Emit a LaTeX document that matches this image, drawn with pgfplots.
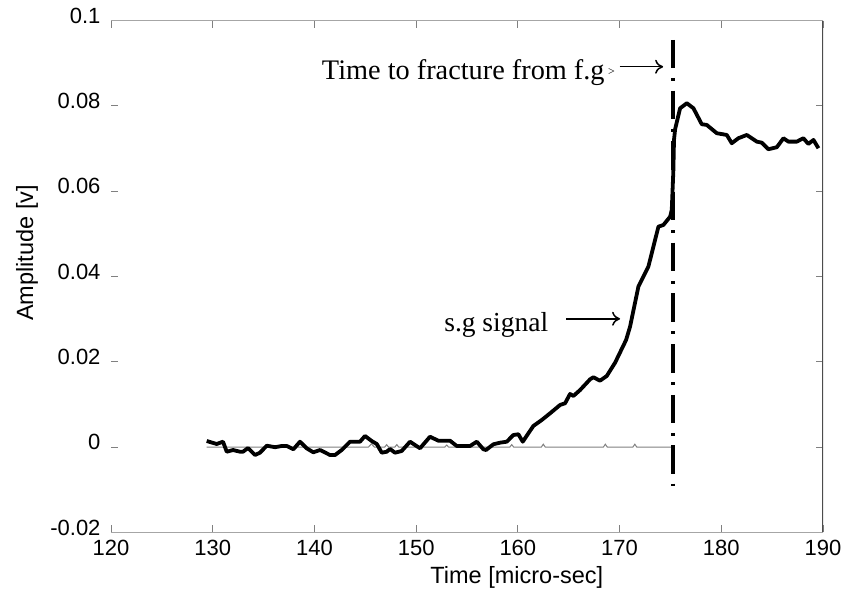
\documentclass[border=0pt]{standalone}
\usepackage{pgfplots}
\pgfplotsset{compat=1.18}
\usepackage{fontspec}
\setmainfont{Liberation Serif}
\newfontfamily\helv{Liberation Sans}
\usetikzlibrary{arrows.meta}

\begin{document}
\begin{tikzpicture}[x=1bp,y=1bp]
\path[use as bounding box] (0,0) rectangle (846,593);
\begin{axis}[
  at={(111bp,60.5bp)}, anchor=south west,
  scale only axis, width=712bp, height=511.8bp,
  xmin=120, xmax=190, ymin=-0.02, ymax=0.1,
  xtick={120,130,140,150,160,170,180,190},
  xticklabels={120,130,140,150,160,170,180,190},
  ytick={-0.02,0,0.02,0.04,0.06,0.08,0.1},
  yticklabels={-0.02,0,0.02,0.04,0.06,0.08,0.1},
  ticklabel style={font=\helv\fontsize{22bp}{26bp}\selectfont},
  xticklabel style={yshift=-4bp},
  yticklabel style={xshift=-7bp, yshift=5bp},
  tick align=inside,
  major tick length=7bp,
  tick style={gray, line width=1bp},
  axis line style={draw=none},
  xlabel={Time [micro-sec]},
  ylabel={Amplitude [v]},
  xlabel style={font=\helv\fontsize{23.5bp}{27bp}\selectfont, at={(axis description cs:0.570,-0.087)}, anchor=center},
  ylabel style={font=\helv\fontsize{23.5bp}{27bp}\selectfont, at={(axis description cs:-0.118,0.546)}, anchor=center},
]
\draw[gray!70, line width=1.5bp] (rel axis cs:0,1) -- (rel axis cs:1,1);
\draw[gray!70, line width=1.5bp] (rel axis cs:0,0) -- (rel axis cs:1,0);
\draw[black!70, line width=1.5bp] (rel axis cs:1,0) -- (rel axis cs:1,1);

% thin baseline
\addplot[gray, line width=1bp] coordinates {
(129.41,0) (145.3,0) (145.6,0.0008) (145.9,0) (146.9,0) (147.1,0.0006) (147.3,0)
(147.9,0) (148.1,0.0006) (148.3,0) (152.8,0) (153,0.0005) (153.2,0)
(159.2,0) (159.4,0.0006) (159.6,0) (162.3,0) (162.5,0.0007) (162.7,0)
(168.4,0) (168.6,0.0007) (168.8,0) (171.3,0) (171.5,0.0007) (171.7,0) (175.26,0)
};

% s.g signal
\addplot[black, line width=3.8bp, line join=round] coordinates {
(129.41,0.00145) (130.39,0.00075) (131.01,0.00129) (131.38,-0.00106) (132.00,-0.00066)
(132.68,-0.00106) (132.98,-0.00106) (133.47,-0.00019) (134.16,-0.00183) (134.65,-0.00129)
(135.31,0.00035) (136.13,0.0) (136.78,0.00028) (137.28,0.00028) (137.93,-0.00049)
(138.58,0.00129) (139.24,-0.00026) (139.89,-0.0012) (140.55,-0.00066) (141.53,-0.00183)
(142.03,-0.00183) (142.68,-0.00066) (143.50,0.00129) (144.48,0.00129) (144.97,0.00263)
(145.63,0.00145) (146.13,0.00075) (146.62,-0.00129) (147.11,-0.00106) (147.43,-0.00042)
(147.92,-0.00129) (148.58,-0.00089) (149.40,0.00129) (150.38,-0.00026) (151.36,0.00246)
(152.18,0.00152) (153.33,0.00152) (153.99,0.00028) (155.30,0.00028) (155.96,0.00129)
(156.61,-0.00049) (156.87,-0.00066) (157.59,0.00068) (158.25,0.00106) (158.91,0.00129)
(159.56,0.00286) (160.05,0.00303) (160.48,0.00129) (161.52,0.00497) (162.35,0.00638)
(163.17,0.00795) (164.15,0.0099) (164.64,0.01029) (165.13,0.01248) (165.46,0.01201)
(166.12,0.01341) (167.10,0.01592) (167.42,0.01639) (168.08,0.0156) (168.74,0.0167)
(169.56,0.01982) (170.64,0.02514) (171.03,0.02826) (171.85,0.03764) (172.34,0.03998)
(172.83,0.04233) (173.82,0.05171) (174.31,0.05211) (174.97,0.05405) (175.13,0.05562)
(175.29,0.065) (175.35,0.07204) (175.46,0.07455) (175.95,0.07947) (176.61,0.08065)
(177.26,0.07947) (178.08,0.07572) (178.57,0.07556) (179.56,0.07361) (180.54,0.07321)
(181.03,0.07127) (181.68,0.07244) (182.51,0.07321) (183.49,0.07164) (183.98,0.0714)
(184.63,0.06986) (185.46,0.07033) (186.11,0.07244) (186.60,0.07164) (187.42,0.07164)
(188.07,0.07244) (188.56,0.0711) (189.06,0.07204) (189.55,0.07009)
};

% fracture time line
\addplot[black, line width=4bp, dash pattern=on 28.5bp off 9.6bp on 3bp off 9.6bp] coordinates {
(175.26,0.0955) (175.26,-0.0091)
};

\node[anchor=base west, inner sep=0, font=\fontsize{28.3bp}{32bp}\selectfont] at (axis cs:140.72,0.0861) {Time to fracture from f.g};
\node[anchor=base west, inner sep=0, font=\fontsize{12bp}{14bp}\selectfont] at (axis cs:168.85,0.0872) {>};
\draw[-{To[length=8bp,width=14bp]}, line width=1.5bp] (axis cs:170.0,0.0892) -- (axis cs:174.28,0.0892);

\node[anchor=base west, inner sep=0, font=\fontsize{27.5bp}{31bp}\selectfont] at (axis cs:152.75,0.0271) {s.g signal};
\draw[-{To[length=8bp,width=14bp]}, line width=1.5bp] (axis cs:164.74,0.0301) -- (axis cs:170.05,0.0301);
\end{axis}
\end{tikzpicture}
\end{document}
